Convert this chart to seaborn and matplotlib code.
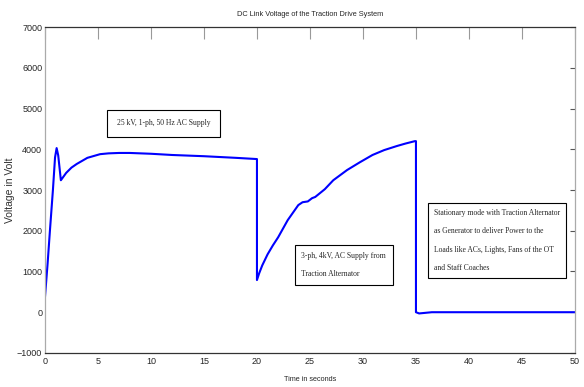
import matplotlib
matplotlib.use("Agg")
import matplotlib.pyplot as plt
import seaborn as sns
import pandas as pd

# time (s) and DC link voltage (V)
time_s = [0, 0.25, 0.47, 0.75, 0.95, 1.1, 1.25, 1.5, 2, 2.5, 3, 4, 5.2, 6, 7, 8, 10, 12, 15, 18, 20,
          20, 20.2, 20.5, 21, 21.5, 22, 22.9, 23.9, 24.3, 24.8, 25.2, 25.5, 26.4, 27.2, 28.5, 29.7,
          30.9, 32, 33.2, 34, 34.9, 35,
          35, 35.3, 35.7, 36.5, 40, 45, 50]
voltage = [370, 1200, 2010, 3000, 3800, 4030, 3850, 3240, 3420, 3550, 3640, 3790, 3880, 3900, 3910, 3910,
           3890, 3860, 3830, 3790, 3760,
           790, 950, 1150, 1420, 1640, 1840, 2260, 2630, 2700, 2720, 2800, 2830, 3020, 3240, 3490, 3680,
           3860, 3980, 4080, 4140, 4200, 4200,
           0, -30, -20, 0, 0, 0, 0]

x_ticks = [0, 5, 10, 15, 20, 25, 30, 35, 40, 45, 50]
y_ticks = [-1000, 0, 1000, 2000, 3000, 4000, 5000, 6000, 7000]

# (x, y, text, box pad)
notes = [
    (6.8, 4640, "25 kV, 1-ph, 50 Hz AC Supply", 1.25),
    (24.2, 1160, "3-ph, 4kV, AC Supply from\nTraction Alternator", 0.9),
    (36.7, 1760, "Stationary mode with Traction Alternator\nas Generator to deliver Power to the\n"
                 "Loads like ACs, Lights, Fans of the OT\nand Staff Coaches", 0.75),
]

sns.set_style("white")
plt.rcParams['font.family'] = ['Liberation Sans Narrow', 'Liberation Sans', 'DejaVu Sans']

df = pd.DataFrame({"t": time_s, "v": voltage})

fig = plt.figure(figsize=(5.84, 3.87), dpi=100)
ax = fig.add_axes([0.077, 0.088, 0.9075, 0.842])
sns.lineplot(data=df, x="t", y="v", sort=False, estimator=None, color="#0000ff", lw=1.5, ax=ax)

ax.set_xlim(0, 50)
ax.set_ylim(-1000, 7000)
ax.set_xticks(x_ticks)
ax.set_yticks(y_ticks)
ax.tick_params(axis="x", direction="in", length=8.5, color="#999999", top=True, labelsize=6.5, pad=3)
ax.tick_params(axis="y", direction="in", length=3.5, color="#555555", right=True, labelsize=6.5, pad=2)
for s in ax.spines.values():
    s.set_color("#333333")
    s.set_linewidth(0.9)
ax.spines["left"].set_color("#aaaaaa")
ax.spines["right"].set_color("#aaaaaa")

ax.set_title("DC Link Voltage of the Traction Drive System", fontsize=5.3, pad=8)
ax.set_xlabel("Time in seconds", fontsize=5.2, labelpad=7)
ax.set_ylabel("Voltage in Volt", fontsize=7.5, color="#333333")
ax.yaxis.set_label_coords(-0.057, 0.5)

for x, y, txt, pad in notes:
    ax.text(x, y, txt, family="Liberation Serif", fontsize=5.5, va="center", ha="left", linespacing=2.7,
            bbox=dict(boxstyle=f"square,pad={pad}", fc="white", ec="black", lw=0.8))

fig.savefig("out.png", dpi=100)
